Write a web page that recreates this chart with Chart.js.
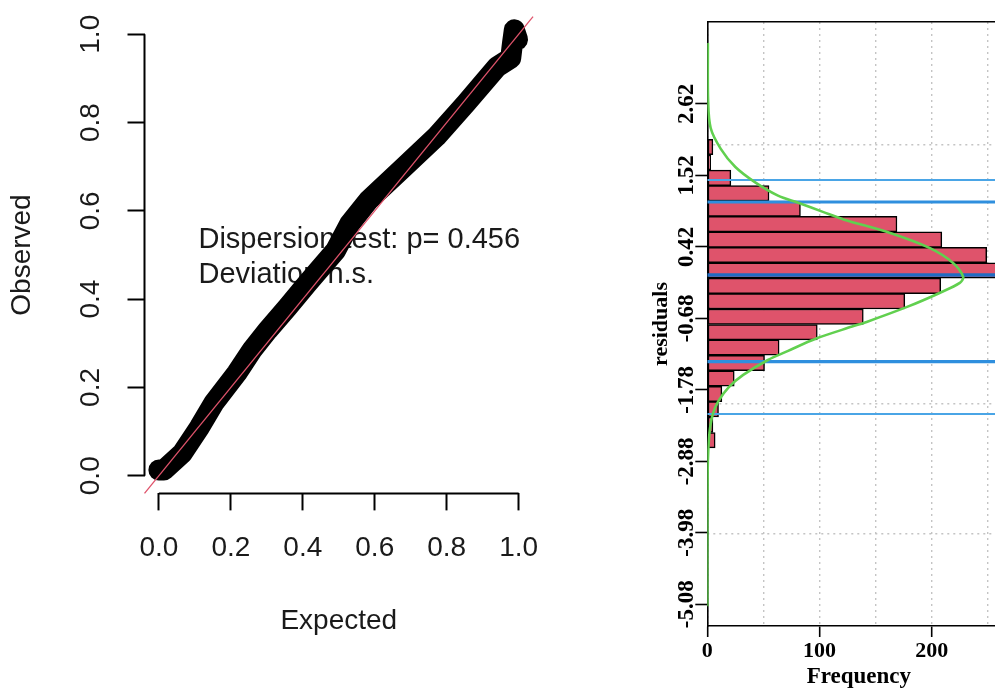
<!DOCTYPE html>
<html>
<head>
<meta charset="utf-8">
<script src="https://cdn.jsdelivr.net/npm/chart.js@4.4.0/dist/chart.umd.min.js"></script>
<style>
html,body{margin:0;padding:0;background:#fff;overflow:hidden;width:995px;height:691px;}
#qq{position:absolute;left:0;top:0;}
#hist{position:absolute;left:600px;top:0;}
</style>
</head>
<body>
<canvas id="qq" width="560" height="691"></canvas>
<canvas id="hist" width="420" height="691"></canvas>
<script>
// ---------- Left panel: QQ plot data ----------
const qqExpected = [0.0, 0.014, 0.065, 0.113, 0.153, 0.217, 0.259, 0.303, 0.358, 0.413, 0.491, 0.530, 0.584, 0.673, 0.771, 0.854, 0.940, 0.978, 0.983, 0.988, 0.997];
const qqObserved = [0.013, 0.013, 0.051, 0.110, 0.165, 0.233, 0.285, 0.330, 0.382, 0.436, 0.510, 0.570, 0.625, 0.693, 0.768, 0.844, 0.926, 0.946, 0.980, 1.010, 0.988];
const refLineX = [-0.04, 1.04];
const refLineY = [-0.04, 1.04];
const qqTicks = [0, 0.2, 0.4, 0.6, 0.8, 1.0];
const qqTickLabels = ['0.0', '0.2', '0.4', '0.6', '0.8', '1.0'];
const qqXTitle = 'Expected';
const qqYTitle = 'Observed';
const testText = ['Dispersion test: p= 0.456', 'Deviation n.s.'];
const testTextX = 0.11;
const testTextY = [0.534, 0.455];

// ---------- Right panel: residual histogram data ----------
const residBins = [1.958, 1.721, 1.483, 1.246, 1.008, 0.771, 0.533, 0.296, 0.058, -0.179, -0.417, -0.654, -0.892, -1.129, -1.367, -1.604, -1.842, -2.079, -2.317, -2.554, -2.792];
const residCounts = [5, 3, 21, 55, 83, 169, 209, 249, 260, 208, 176, 139, 98, 64, 51, 24, 13, 10, 5, 7, 1];
const curveResid = [3.56, 2.68, 2.25, 1.93, 1.65, 1.41, 1.21, 1.10, 0.96, 0.84, 0.635, 0.405, 0.174, -0.04, -0.134, -0.288, -0.503, -0.734, -0.806, -0.99, -1.18, -1.32, -1.55, -1.74, -1.95, -2.15, -2.39, -2.70, -3.06, -4.00, -5.11];
const curveFreq  = [0.5, 0.7, 3, 12, 25, 43, 63, 81, 103, 122, 163, 198, 219, 228, 225, 207, 178, 142, 129, 97, 72, 54, 32, 19, 10, 5, 2.3, 0.9, 0.3, 0.05, 0];
const refLineValues = [1.450, 1.112, -0.012, -1.346, -2.151];
const refLineKinds  = ['thin', 'thick', 'zero', 'thick', 'thin'];
const residTicks = [2.62, 1.52, 0.42, -0.68, -1.78, -2.88, -3.98, -5.08];
const residTickLabels = ['2.62', '1.52', '0.42', '-0.68', '-1.78', '-2.88', '-3.98', '-5.08'];
const residGrid = [2, 0, -2, -4];
const freqGrid = [0, 50, 100, 150, 200, 250];
const freqTicks = [0, 100, 200];
const freqTickLabels = ['0', '100', '200'];
const residTitle = 'residuals';
const freqTitle = 'Frequency';
const residRange = [-5.414, 3.882];
const freqRange = [0, 270];

const SANS = '"Liberation Sans", Arial, Helvetica, sans-serif';
const SERIF = '"Liberation Serif", "Times New Roman", serif';
const TXT = '#1a1a1a';

// ---------- Left chart ----------
const qqPlugin = {
  id: 'qqDecor',
  beforeDatasetsDraw(chart) {
    const {ctx, scales: {x, y}} = chart;
    ctx.save();
    ctx.font = '29px ' + SANS;
    ctx.fillStyle = TXT;
    ctx.textAlign = 'left';
    ctx.textBaseline = 'middle';
    testText.forEach((t, i) => ctx.fillText(t, x.getPixelForValue(testTextX), y.getPixelForValue(testTextY[i])));
    ctx.restore();
  },
  afterDraw(chart) {
    const {ctx, chartArea, scales: {x, y}} = chart;
    ctx.save();
    ctx.strokeStyle = '#000';
    ctx.lineWidth = 2;
    ctx.beginPath();
    ctx.moveTo(x.getPixelForValue(qqTicks[0]), chartArea.bottom);
    ctx.lineTo(x.getPixelForValue(qqTicks[qqTicks.length - 1]), chartArea.bottom);
    ctx.moveTo(chartArea.left, y.getPixelForValue(qqTicks[0]));
    ctx.lineTo(chartArea.left, y.getPixelForValue(qqTicks[qqTicks.length - 1]));
    ctx.stroke();
    ctx.font = '28px ' + SANS;
    ctx.fillStyle = TXT;
    ctx.textAlign = 'center';
    ctx.textBaseline = 'middle';
    qqTicks.forEach((v, i) => {
      ctx.save();
      ctx.translate(chartArea.left - 53, y.getPixelForValue(v));
      ctx.rotate(-Math.PI / 2);
      ctx.fillText(qqTickLabels[i], 0, 0);
      ctx.restore();
    });
    ctx.restore();
  }
};

new Chart(document.getElementById('qq'), {
  type: 'scatter',
  data: {
    datasets: [
      {
        data: refLineX.map((v, i) => ({x: v, y: refLineY[i]})),
        showLine: true, borderColor: '#DF536B', borderWidth: 1.3, pointRadius: 0, clip: false, order: 0
      },
      {
        data: qqExpected.map((v, i) => ({x: v, y: qqObserved[i]})),
        showLine: true, borderColor: '#000', borderWidth: 21, pointRadius: 0,
        borderCapStyle: 'round', borderJoinStyle: 'round', tension: 0, clip: false, order: 1
      }
    ]
  },
  options: {
    responsive: false, devicePixelRatio: 1, animation: false,
    layout: {padding: {left: 0, top: 16.6, right: 24.3, bottom: 0}},
    plugins: {legend: {display: false}, tooltip: {enabled: false}},
    scales: {
      x: {
        type: 'linear', min: -0.04, max: 1.04,
        afterBuildTicks: s => { s.ticks = qqTicks.map(v => ({value: v})); },
        afterFit: s => { s.height = 197.6; },
        border: {display: false},
        grid: {drawOnChartArea: false, drawTicks: true, tickLength: 17, tickColor: '#000', tickWidth: 2},
        ticks: {
          autoSkip: false, maxRotation: 0, padding: 21, color: TXT,
          font: {family: SANS, size: 28},
          callback: v => qqTickLabels[qqTicks.indexOf(v)]
        },
        title: {display: true, text: qqXTitle, color: TXT, font: {family: SANS, size: 28}, padding: {top: 0, bottom: 52.5}}
      },
      y: {
        type: 'linear', min: -0.04, max: 1.04,
        afterBuildTicks: s => { s.ticks = qqTicks.map(v => ({value: v})); },
        afterFit: s => { s.width = 144.5; },
        border: {display: false},
        grid: {drawOnChartArea: false, drawTicks: true, tickLength: 17, tickColor: '#000', tickWidth: 2},
        ticks: {display: false},
        title: {display: true, text: qqYTitle, color: TXT, font: {family: SANS, size: 28}, padding: {top: 5, bottom: 0}}
      }
    }
  },
  plugins: [qqPlugin]
});

// ---------- Right chart ----------
const histPlugin = {
  id: 'histDecor',
  afterDraw(chart) {
    const {ctx, chartArea, scales: {y}} = chart;
    ctx.save();
    ctx.font = 'bold 23px ' + SERIF;
    ctx.fillStyle = '#000';
    ctx.textAlign = 'center';
    ctx.textBaseline = 'middle';
    residTicks.forEach((v, i) => {
      ctx.save();
      ctx.translate(chartArea.left - 20.3, y.getPixelForValue(v));
      ctx.rotate(-Math.PI / 2);
      ctx.fillText(residTickLabels[i], 0, 0);
      ctx.restore();
    });
    ctx.restore();
  }
};

const lineStyles = {
  thin:  {color: '#4aa5e6', width: 2},
  thick: {color: '#2f8fde', width: 3.2},
  zero:  {color: '#1f6cc2', width: 3.5}
};

const refDatasets = refLineValues.map((v, i) => ({
  type: 'line',
  data: [{x: freqRange[0], y: v}, {x: freqRange[1], y: v}],
  borderColor: lineStyles[refLineKinds[i]].color,
  borderWidth: lineStyles[refLineKinds[i]].width,
  pointRadius: 0, order: 1
}));

new Chart(document.getElementById('hist'), {
  type: 'bar',
  data: {
    datasets: [
      {
        type: 'line',
        data: curveResid.map((v, i) => ({x: curveFreq[i], y: v})),
        borderColor: '#61D04F', borderWidth: 2.6, pointRadius: 0, tension: 0.3, order: 0
      },
      ...refDatasets,
      {
        type: 'bar',
        data: residBins.map((v, i) => ({x: residCounts[i], y: v})),
        backgroundColor: '#DF536B', borderColor: '#000', borderWidth: 1.5, borderSkipped: false,
        barPercentage: 1, categoryPercentage: 1, order: 2
      }
    ]
  },
  options: {
    indexAxis: 'y',
    responsive: false, devicePixelRatio: 1, animation: false,
    layout: {padding: {left: 0, top: 22, right: 9.7, bottom: 0}},
    plugins: {legend: {display: false}, tooltip: {enabled: false}},
    scales: {
      x: {
        type: 'linear', position: 'bottom', min: freqRange[0], max: freqRange[1],
        afterBuildTicks: s => { s.ticks = freqGrid.map(v => ({value: v})); },
        afterFit: s => { s.height = 65; },
        border: {display: true, color: '#000', width: 1.6, dash: [2, 4]},
        grid: {
          color: '#c4c4c4', lineWidth: 1.4, drawOnChartArea: true, drawTicks: true,
          tickLength: 11, tickWidth: 1.6, tickBorderDash: [],
          tickColor: c => freqTicks.includes(c.tick && c.tick.value) ? '#000' : 'rgba(0,0,0,0)'
        },
        ticks: {
          autoSkip: false, maxRotation: 0, padding: 1, color: '#000',
          font: {family: SERIF, size: 22, weight: 'bold'},
          callback: v => { const i = freqTicks.indexOf(v); return i >= 0 ? freqTickLabels[i] : ''; }
        },
        title: {display: true, text: freqTitle, color: '#000', font: {family: SERIF, size: 23, weight: 'bold'}, padding: {top: 0, bottom: 0}}
      },
      x2: {
        type: 'linear', position: 'top', min: freqRange[0], max: freqRange[1],
        afterFit: s => { s.height = 0; },
        border: {display: true, color: '#000', width: 1.6},
        grid: {display: true, drawOnChartArea: false, drawTicks: false},
        ticks: {display: false}
      },
      y: {
        type: 'linear', position: 'left', min: residRange[0], max: residRange[1],
        offset: false,
        afterBuildTicks: s => { s.ticks = residTicks.map(v => ({value: v})); },
        afterFit: s => { s.width = 107.3; },
        border: {display: true, color: '#000', width: 1.6},
        grid: {offset: false, drawOnChartArea: false, drawTicks: true, tickLength: 12, tickColor: '#000', tickWidth: 1.6},
        ticks: {display: false},
        title: {display: true, text: residTitle, color: '#000', font: {family: SERIF, size: 22, weight: 'bold'}, padding: {top: 47.8, bottom: 0}}
      },
      y2: {
        type: 'linear', position: 'right', min: residRange[0], max: residRange[1],
        offset: false,
        afterBuildTicks: s => { s.ticks = residGrid.map(v => ({value: v})); },
        afterFit: s => { s.width = 0; },
        border: {display: false, dash: [2, 4]},
        grid: {offset: false, color: '#c4c4c4', lineWidth: 1.4, drawOnChartArea: true, drawTicks: false},
        ticks: {display: false}
      }
    }
  },
  plugins: [histPlugin]
});
</script>
</body>
</html>
